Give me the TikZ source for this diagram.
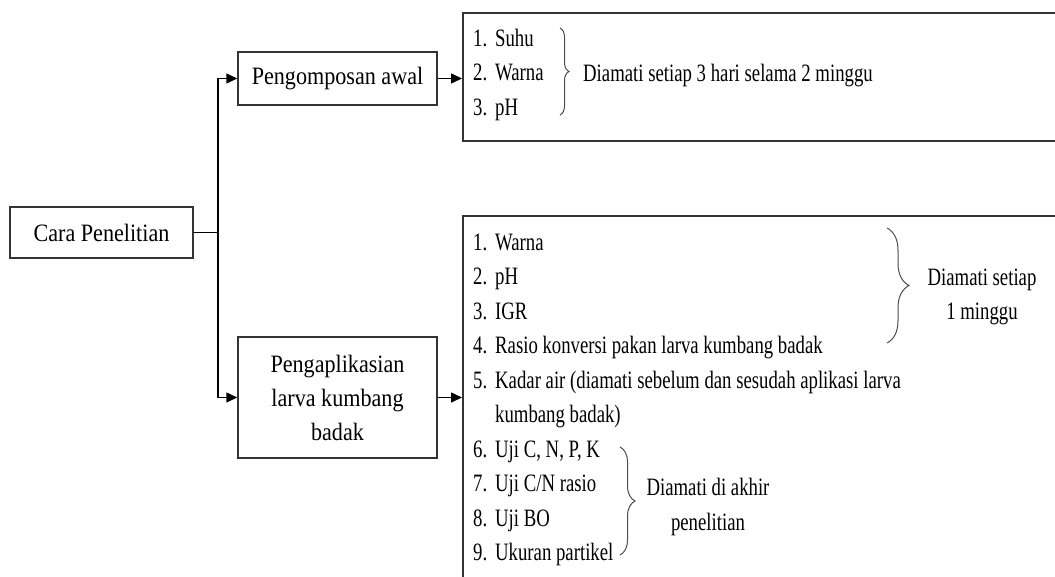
\documentclass[tikz,border=0pt]{standalone}
\usepackage{fontspec}
\setmainfont{Liberation Serif}[FakeStretch=0.885]
\newfontfamily\listfont{Liberation Serif}[FakeStretch=0.75]
\usetikzlibrary{arrows.meta,decorations.pathreplacing}

\newcommand{\itm}[2]{\makebox[22pt][l]{#1}#2}

\begin{document}
\begin{tikzpicture}[
  x=1pt, y=-1pt,
  font=\fontsize{25}{34}\selectfont,
  box/.style={draw=black!80, line width=1.5pt, align=center, inner sep=0pt},
  item/.style={anchor=base west, inner sep=0pt, font=\listfont\fontsize{25}{34.5}\selectfont},
  note/.style={align=center, inner sep=0pt, font=\listfont\fontsize{25}{34.5}\selectfont},
  brc/.style={decorate, draw=black!70, line width=1pt},
  arr/.style={-{Triangle[length=11pt, width=10pt]}, line width=1.5pt}
]
\clip (0,0) rectangle (1055,576);

% left column
\node[box, minimum width=183pt, minimum height=51pt] (cara) at (101.5,232.5) {Cara Penelitian};
\node[box, minimum width=199pt, minimum height=53pt] (komp) at (337.5,78.5) {Pengomposan awal};
\node[box, minimum width=199pt, minimum height=121pt] (aplik) at (337.5,397.5) {Pengaplikasian\\larva kumbang\\badak};

% observation boxes (run off the page)
\node[box, anchor=north west, minimum width=620pt, minimum height=128pt] (obsA) at (462,12) {};
\node[box, anchor=north west, minimum width=620pt, minimum height=380pt] (obsB) at (462,215) {};

% arrows
\draw[arr] (cara.east) -- ++(24,0) |- (komp.west);
\draw[arr] (cara.east) -- ++(24,0) |- (aplik.west);
\draw[arr] (komp.east) -- (komp.east -| obsA.west);
\draw[arr] (aplik.east) -- (aplik.east -| obsB.west);

% first list
\foreach \n/\t [count=\k from 0] in {1/Suhu, 2/Warna, 3/pH}
  \node[item] (a\n) at (473, 46+34.5*\k) {\itm{\n.}{\t}};
\draw[brc, decoration={brace, amplitude=9pt}] (560,28) -- (560,115);
\node[note, anchor=base west] (tA) at (583,81) {Diamati setiap 3 hari selama 2 minggu};

% second list
\foreach \n/\t [count=\k from 0] in {1/Warna, 2/pH, 3/IGR, 4/{Rasio konversi pakan larva kumbang badak}, 5/{Kadar air (diamati sebelum dan sesudah aplikasi larva}}
  \node[item] (b\n) at (473, 250+34.5*\k) {\itm{\n.}{\t}};
\node[item] (b5x) at (495, 250+34.5*5) {kumbang badak)};
\foreach \n/\t [count=\k from 6] in {6/{Uji C, N, P, K}, 7/{Uji C/N rasio}, 8/{Uji BO}, 9/{Ukuran partikel}}
  \node[item] (b\n) at (473, 250+34.5*\k) {\itm{\n.}{\t}};

\draw[brc, decoration={brace, amplitude=22pt}] (887,228) -- (887,343);
\node[note] (tB) at (982,297) {Diamati setiap\\1 minggu};
\draw[brc, decoration={brace, amplitude=15pt}] (620,447) -- (620,555);
\node[note] (tC) at (708,507) {Diamati di akhir\\penelitian};
\end{tikzpicture}
\end{document}
